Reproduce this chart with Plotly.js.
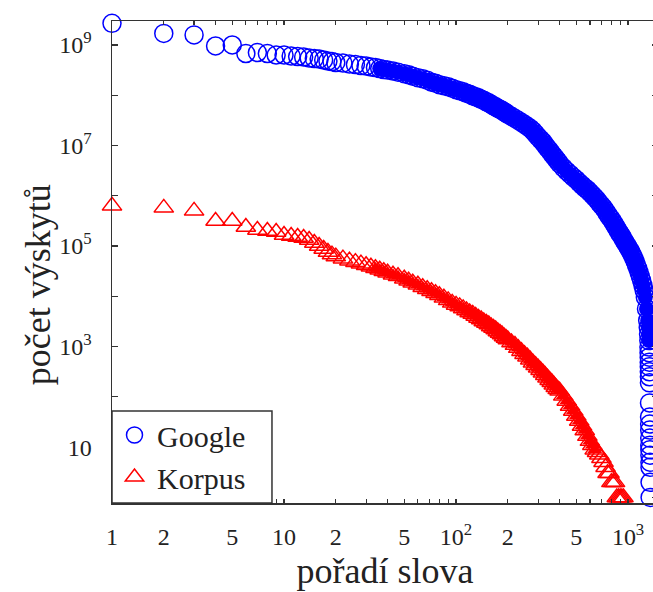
<!DOCTYPE html>
<html>
<head>
<meta charset="utf-8">
<script src="https://cdn.plot.ly/plotly-3.0.1.min.js"></script>
<style>
html, body { margin: 0; padding: 0; overflow: hidden; background: #fff; }
#chart { width: 662px; height: 592px; }
</style>
</head>
<body>
<div id="chart"></div>
<script>
// ---- data (log10 of counts) ----
const googleRank = [
  1,2,3,4,5,6,7,8,9,10,11,12,13,14,15,16,17,18,19,20,
  22,24,26,28,30,32,34,36,38,40,
  43,46,50,53,56,60,64,68,72,76,80,85,90,95,100,
  105,110,115,120,125,130,135,140,145,150,155,160,165,170,175,180,185,190,195,200,
  210,220,230,240,250,260,270,280,290,300,310,320,330,340,350,360,370,380,390,400,
  420,440,460,480,500,520,540,560,580,600,620,640,660,680,700,720,740,760,780,800,
  820,840,860,880,900,920,940,960,980,1000,1020,1040,1060,1080,1100,1120,1140,1160,1180,1200,
  1220,1240,1260,1280,1300,
  1310,1315,1320,1322,1324,1326,1327,1328,1329,1330,1331,1332,1333,1334,1335,1336,1337,1338,1339,1340,1341,1342,1343
];
const googleLog = [
  9.43,9.23,9.20,8.98,9.00,8.83,8.85,8.83,8.80,8.80,8.78,8.77,8.76,8.74,8.73,8.72,8.70,8.68,8.67,8.65,
  8.64,8.62,8.61,8.59,8.58,8.56,8.55,8.53,8.51,8.50,
  8.48,8.46,8.43,8.41,8.38,8.35,8.33,8.30,8.26,8.24,8.21,8.19,8.17,8.14,8.11,
  8.09,8.07,8.04,8.02,7.99,7.97,7.95,7.92,7.90,7.87,7.85,7.82,7.79,7.77,7.74,7.72,7.70,7.67,7.65,7.62,
  7.58,7.54,7.50,7.46,7.42,7.38,7.34,7.29,7.23,7.17,7.12,7.07,7.01,6.95,6.90,6.84,6.79,6.74,6.69,6.64,
  6.56,6.49,6.43,6.37,6.32,6.26,6.21,6.16,6.12,6.07,6.02,5.97,5.92,5.86,5.81,5.76,5.70,5.64,5.58,5.53,
  5.47,5.41,5.35,5.29,5.24,5.19,5.13,5.08,5.03,4.98,4.93,4.88,4.82,4.76,4.69,4.62,4.55,4.47,4.39,4.31,
  4.22,4.12,3.98,3.75,3.52,
  3.38,3.25,3.12,2.99,2.88,2.79,2.69,2.60,2.50,2.40,2.28,1.88,1.60,1.46,1.34,1.18,1.04,0.95,0.84,0.70,0.60,0.30,0.00
];
const korpusRank = [
  1,2,3,4,5,6,7,8,9,10,11,12,13,14,15,16,17,18,19,20,
  22,24,26,28,30,32,34,36,38,40,
  43,46,50,53,56,60,64,68,72,76,80,85,90,95,100,
  105,110,115,120,125,130,135,140,145,150,155,160,165,170,175,180,185,190,195,200,
  210,220,230,240,250,260,270,280,290,300,310,320,330,340,350,360,370,380,390,400,
  420,440,460,480,500,520,540,560,580,600,620,640,660,680,700,720,740,760,780,800,
  820,840,860,880,900,920,940
];
const korpusLog = [
  5.80,5.76,5.70,5.50,5.50,5.38,5.32,5.30,5.28,5.22,5.20,5.18,5.16,5.12,5.06,5.00,4.94,4.88,4.83,4.79,
  4.75,4.71,4.68,4.65,4.62,4.59,4.56,4.53,4.50,4.47,
  4.43,4.40,4.35,4.31,4.27,4.23,4.18,4.14,4.10,4.06,4.02,3.97,3.92,3.87,3.83,
  3.80,3.76,3.72,3.68,3.65,3.61,3.57,3.54,3.50,3.47,3.44,3.40,3.37,3.34,3.30,3.27,3.24,3.20,3.17,3.14,
  3.08,3.03,2.97,2.91,2.85,2.80,2.74,2.68,2.63,2.58,2.53,2.48,2.43,2.38,2.33,2.29,2.24,2.19,2.15,2.12,
  2.02,1.92,1.82,1.72,1.62,1.52,1.42,1.33,1.22,1.12,1.04,0.95,0.90,0.85,0.78,0.70,0.60,0.48,0.48,0.30,
  0.30,0.30,0.00,0.00,0.00,0.00,0.00
];
const seriesNames = ['Google', 'Korpus'];
const xLabelVals = [1,2,5,10,20,50,100,200,500,1000];
const xLabelText = ['1','2','5','10','2','5','10<sup>2</sup>','2','5','10<sup>3</sup>'];
const xMinorVals = [3,4,6,7,8,9,30,40,60,70,80,90,300,400,600,700,800,900];
const xDecadeVals = [1,10,100,1000];
const yLabelVals = [1e1,1e3,1e5,1e7,1e9];
const yLabelText = ['10','10<sup>3</sup>','10<sup>5</sup>','10<sup>7</sup>','10<sup>9</sup>'];
const yMinorVals = [1,1e2,1e4,1e6,1e8];
const xTitle = 'pořadí slova';
const yTitle = 'počet výskytů';

const toCount = a => a.map(v => Math.pow(10, v));
// dense part of each band (where overlapping markers merge into a solid band)
function densePart(ranks, logs, lo, hi) {
  const x = [], y = [];
  ranks.forEach((r, i) => { if (r >= lo && r <= hi) { x.push(r); y.push(Math.pow(10, logs[i])); } });
  return {x, y};
}
const gDense = densePart(googleRank, googleLog, 36, 1320);
const kDense = densePart(korpusRank, korpusLog, 34, 640);

const SERIF = 'Liberation Serif';
const AX = '#333';
const BLUE = '#0000ff', RED = '#ff0000';

const traces = [
  {x: gDense.x, y: gDense.y, type: 'scatter', mode: 'markers', cliponaxis: false,
   showlegend: false, hoverinfo: 'skip',
   marker: {symbol: 'circle', size: 15, color: BLUE, line: {width: 0}}},
  {x: kDense.x, y: kDense.y, type: 'scatter', mode: 'markers', cliponaxis: false,
   showlegend: false, hoverinfo: 'skip',
   marker: {symbol: 'triangle-up', size: 13, color: RED, line: {width: 0}}},
  {
    x: googleRank, y: toCount(googleLog), name: seriesNames[0],
    type: 'scatter', mode: 'markers', cliponaxis: false,
    marker: {symbol: 'circle-open', size: 18, color: BLUE, line: {width: 1.5}}
  },
  {
    x: korpusRank, y: toCount(korpusLog), name: seriesNames[1],
    type: 'scatter', mode: 'markers', cliponaxis: false,
    marker: {symbol: 'triangle-up-open', size: 17, color: RED, line: {width: 1.5}}
  }
];

const xRange = [0, 3.174];
const layout = {
  width: 662, height: 592,
  margin: {l: 112, r: 4, t: 21, b: 89},
  paper_bgcolor: '#fff', plot_bgcolor: '#fff',
  font: {family: SERIF, color: '#222'},
  showlegend: true,
  legend: {
    x: 0, y: 0, xanchor: 'left', yanchor: 'bottom',
    bgcolor: 'rgba(0,0,0,0)', borderwidth: 0,
    font: {family: SERIF, size: 30, color: '#222'},
    itemwidth: 35, tracegroupgap: 0
  },
  shapes: [
    {type: 'rect', xref: 'paper', yref: 'paper', x0: 0, x1: 0.293, y0: 0, y1: 0.191,
     layer: 'above', fillcolor: '#fff', line: {color: AX, width: 1.5}}
  ],
  xaxis: {
    type: 'log', range: xRange,
    showline: true, linecolor: AX, linewidth: 1.5, mirror: 'allticks',
    showgrid: false, zeroline: false,
    tickmode: 'array', tickvals: xLabelVals, ticktext: xLabelText,
    ticks: 'inside', ticklen: 4, tickwidth: 1.2, tickcolor: AX,
    tickfont: {family: SERIF, size: 24, color: '#222'},
    ticklabelstandoff: 12,
    minor: {tickmode: 'array', tickvals: xMinorVals, ticks: 'inside', ticklen: 4, tickwidth: 1.2, tickcolor: AX, showgrid: false},
    title: {text: xTitle, standoff: 8, font: {family: SERIF, size: 36, color: '#222'}}
  },
  xaxis2: {
    type: 'log', range: xRange, overlaying: 'x', anchor: 'y', side: 'bottom',
    showline: false, showgrid: false, zeroline: false, mirror: 'allticks',
    tickmode: 'array', tickvals: xDecadeVals, showticklabels: false,
    ticks: 'inside', ticklen: 7, tickwidth: 1.2, tickcolor: AX
  },
  yaxis: {
    type: 'log', range: [-0.111, 9.477],
    showline: true, linecolor: AX, linewidth: 1.5, mirror: 'allticks',
    showgrid: false, zeroline: false,
    tickmode: 'array', tickvals: yLabelVals, ticktext: yLabelText,
    ticks: 'inside', ticklen: 6, tickwidth: 1.2, tickcolor: AX,
    tickfont: {family: SERIF, size: 24, color: '#222'},
    ticklabelstandoff: 14,
    minor: {tickmode: 'array', tickvals: yMinorVals, ticks: 'inside', ticklen: 6, tickwidth: 1.2, tickcolor: AX, showgrid: false}
  },
  annotations: [
    {text: '<span style="font-family:\'Liberation Serif\',serif">' + yTitle + '</span>',
     xref: 'paper', yref: 'paper', x: 0, y: 0.452,
     xanchor: 'center', yanchor: 'middle', xshift: -74, textangle: -90, showarrow: false,
     font: {family: SERIF, size: 36, color: '#222'}}
  ]
};

Plotly.newPlot('chart', traces, layout, {displayModeBar: false, staticPlot: true});
</script>
</body>
</html>
